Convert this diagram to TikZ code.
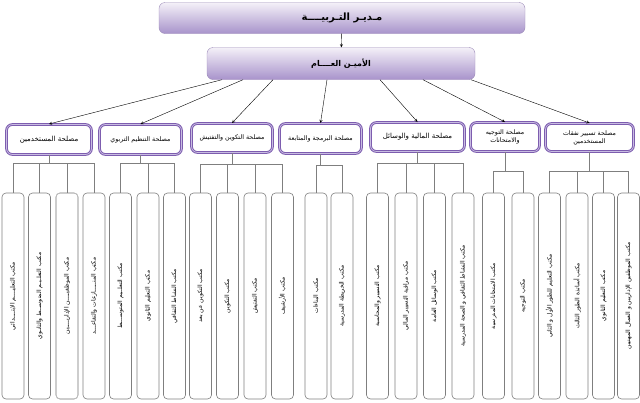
\documentclass[tikz,border=0pt]{standalone}
\usepackage{fontspec}
\newfontfamily\arfont[Script=Arabic]{DejaVu Sans}
\TeXXeTstate=1
\definecolor{lavtop}{HTML}{F4F0F8}
\definecolor{lavbot}{HTML}{A893CB}
\definecolor{lavline}{HTML}{9C8BB8}
\definecolor{deptline}{HTML}{7D5DAF}
\definecolor{deptin}{HTML}{C9BCE2}
\definecolor{ofcline}{HTML}{7F7F7F}

\begin{document}
\begin{tikzpicture}[x=1pt,y=-1pt,>=stealth,
  head/.style={shade,top color=lavtop,bottom color=lavbot,draw=lavline,rounded corners=6pt},
  dept/.style={draw=deptline,double=deptin,double distance=0.7pt,line width=1pt,fill=white,
    rounded corners=6pt,align=center,inner sep=1pt,font=\arfont\fontsize{6.3}{8}\selectfont},
  office/.style={draw=ofcline,line width=0.6pt,rounded corners=4pt,minimum width=22pt,minimum height=206pt},
  ofctext/.style={rotate=90,font=\arfont\fontsize{6}{7}\selectfont},
  branch/.style={draw=ofcline,line width=0.6pt}]
\useasboundingbox (0,0) rectangle (640,402);
\newcommand\maktab[3]{
\node[office] (#1) at (#2,296) {};
\node[ofctext] (#1t) at (#1) {#3};
}
% top of the chart
\node[head,minimum width=366pt,minimum height=31pt,font=\arfont\bfseries\fontsize{10}{12}\selectfont] (mudir) at (342,18) {\beginR مـديـر التـربيــــة\endR};
\node[head,minimum width=268pt,minimum height=32pt,font=\arfont\bfseries\fontsize{8}{10}\selectfont] (amin) at (341,63.5) {\beginR الأميـن العــــام\endR};
\path[draw,->] (mudir) -- (amin);
% services
\node[dept,minimum width=85pt,minimum height=30pt,font=\arfont\fontsize{7}{9}\selectfont] (d1) at (49,139.5) {\beginR مصلحة المستخدمين\endR};
\node[dept,minimum width=82pt,minimum height=30pt] (d2) at (140.5,139.5) {\beginR مصلحة التنظيم التربوي\endR};
\node[dept,minimum width=81pt,minimum height=29pt] (d3) at (232,138) {\beginR مصلحة التكوين والتفتيش\endR};
\node[dept,minimum width=82pt,minimum height=30pt] (d4) at (320.5,138.5) {\beginR مصلحة البرمجة والمتابعة\endR};
\node[dept,minimum width=94pt,minimum height=29pt,font=\arfont\fontsize{7}{9}\selectfont] (d5) at (417.5,137) {\beginR مصلحة المالية والوسائل\endR};
\node[dept,minimum width=69pt,minimum height=29pt] (d6) at (505,137) {\beginR مصلحة التوجيه\endR\\\beginR والامتحانات\endR};
\node[dept,minimum width=88pt,minimum height=28pt] (d7) at (589.5,137.5) {\beginR مصلحة تسيير نفقات\endR\\\beginR المستخدمين\endR};
\path[draw,->] ([xshift=-119pt]amin.south) -- (d1.north);
\path[draw,->] ([xshift=-98pt]amin.south) -- (d2.north);
\path[draw,->] ([xshift=-68pt]amin.south) -- (d3.north);
\path[draw,->] ([xshift=-14pt]amin.south) -- (d4.north);
\path[draw,->] ([xshift=39pt]amin.south) -- (d5.north);
\path[draw,->] ([xshift=82pt]amin.south) -- (d6.north);
\path[draw,->] ([xshift=130pt]amin.south) -- (d7.north);
% offices
\maktab{o11}{13}{\beginR مكتب التعليــــم الابتــــدائي\endR}
\maktab{o12}{39.5}{\beginR مكتب التعلـيـم المتوســط والثانـوي\endR}
\maktab{o13}{67}{\beginR مكتب الموظفيــــن الإداريــــين\endR}
\maktab{o14}{94}{\beginR مكتب المنـــــازعات والتقاعـــد\endR}
\node[office,draw=ofcline!45] (o13b) at (o13) {};
\maktab{o21}{120.5}{\beginR مكتب التعلــيم المتوســـط\endR}
\maktab{o22}{148}{\beginR مكتب التعليم الثانوي\endR}
\maktab{o23}{174.5}{\beginR مكتب النشاط الثقافي\endR}
\maktab{o31}{200.5}{\beginR مكتب التكوين عن بعد\endR}
\maktab{o32}{227.5}{\beginR مكتب التكوين\endR}
\maktab{o33}{255}{\beginR مكتب التفتيش\endR}
\maktab{o34}{282.5}{\beginR مكتب الأرشيف\endR}
\maktab{o41}{316}{\beginR مكتب البناءات\endR}
\maktab{o42}{342}{\beginR مكتب الخريطة المدرسية\endR}
\maktab{o51}{377.5}{\beginR مكتب التسيير والمحاسبة\endR}
\maktab{o52}{406}{\beginR مكتب مراقبة التسيير المالي\endR}
\maktab{o53}{434.5}{\beginR مكتب الوسائل العامة\endR}
\maktab{o54}{463}{\beginR مكتب النشاط الثقافي و الصحة المدرسية\endR}
\maktab{o61}{493.5}{\beginR مكتب الامتحانات المدرسية\endR}
\maktab{o62}{523}{\beginR مكتب التوجيه\endR}
\maktab{o71}{549.5}{\beginR مكتب التعليم للطور الأول و الثاني\endR}
\maktab{o72}{577}{\beginR مكتب أساتذة الطور الثالث\endR}
\maktab{o73}{603.5}{\beginR مكتب التعليم الثانوي\endR}
\maktab{o74}{628.5}{\beginR مكتب الموظفين الإداريين و العمال المهنيين\endR}
% branches
\path[branch] (d1.south) -- ++(0,8) coordinate (b1);
\path[branch] (d2.south) -- ++(0,8) coordinate (b2);
\path[branch] (d3.south) -- ++(0,11) coordinate (b3);
\path[branch] (d4.south) -- ++(0,11) coordinate (b4);
\path[branch] (d5.south) -- ++(0,11) coordinate (b5);
\path[branch] (d6.south) -- ++(0,19) coordinate (b6);
\path[branch] (d7.south) -- ++(0,19) coordinate (b7);
\foreach \o in {o11,o12,o13,o14} \path[branch] (b1) -| (\o.north);
\foreach \o in {o21,o22,o23} \path[branch] (b2) -| (\o.north);
\foreach \o in {o31,o32,o33,o34} \path[branch] (b3) -| (\o.north);
\foreach \o in {o41,o42} \path[branch] (b4) -| (\o.north);
\foreach \o in {o51,o52,o53,o54} \path[branch] (b5) -| (\o.north);
\foreach \o in {o61,o62} \path[branch] (b6) -| (\o.north);
\foreach \o in {o71,o72,o73,o74} \path[branch] (b7) -| (\o.north);
\end{tikzpicture}
\end{document}
